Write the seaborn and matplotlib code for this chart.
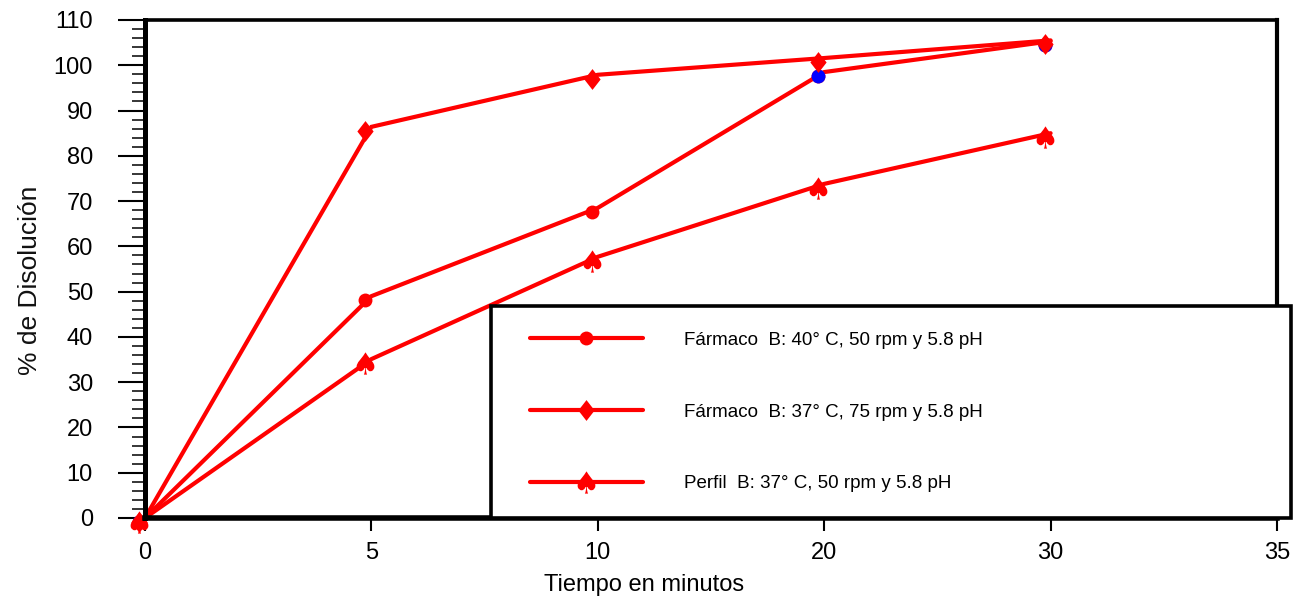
import numpy as np
import pandas as pd
import matplotlib
matplotlib.use('Agg')
import matplotlib.pyplot as plt
import matplotlib.transforms as mtransforms
from matplotlib.lines import Line2D
from matplotlib.patches import Rectangle
from matplotlib.ticker import MultipleLocator
import seaborn as sns

# ---------------- data ----------------
tiempo = [0, 5, 10, 20, 30]
xtick_labels = ['0', '5', '10', '20', '30', '35']
ytick_values = list(range(0, 111, 10))
farmaco_40c_50rpm = [0, 49.0, 68.5, 98.5, 105.3]
farmaco_37c_75rpm = [0, 86.4, 97.9, 101.6, 105.5]
perfil_37c_50rpm = [0, 35.1, 57.7, 73.8, 85.0]
etiquetas = ['Fármaco  B: 40° C, 50 rpm y 5.8 pH',
             'Fármaco  B: 37° C, 75 rpm y 5.8 pH',
             'Perfil  B: 37° C, 50 rpm y 5.8 pH']
tiempos_azules = [0, 20, 30]   # circle markers drawn in blue

# ---------------- style ----------------
sns.set_theme(style='ticks')
plt.rcParams['font.family'] = ['Liberation Sans', 'DejaVu Sans']

W, H = 1294, 599
fig = plt.figure(figsize=(W / 100, H / 100), dpi=100)
ax = fig.add_axes([145 / W, 1 - 518 / H, (1277 - 145) / W, (518 - 20) / H])

df = pd.DataFrame({
    'pos': np.arange(len(tiempo)),
    'tiempo': tiempo,
    's1': farmaco_40c_50rpm,
    's2': farmaco_37c_75rpm,
    's3': perfil_37c_50rpm,
})

diamond = [(0, 1), (0.78, 0), (0, -1), (-0.78, 0), (0, 1)]
spade = r'$\spadesuit$'
marker_offset = ax.transData + mtransforms.ScaledTranslation(-0.06, -0.04, fig.dpi_scale_trans)
LW = 3.0


def draw_series(col, marker, ms, color='red', sub=None):
    data = df if sub is None else df[df['tiempo'].isin(sub)]
    if sub is None:
        sns.lineplot(data=data, x='pos', y=col, color=color, lw=LW, ax=ax)
        ax.lines[-1].set_solid_joinstyle('miter')
    sns.lineplot(data=data, x='pos', y=col, color=color, linewidth=0, marker=marker,
                 markersize=ms, markeredgewidth=0, ax=ax)
    ln = ax.lines[-1]
    ln.set_transform(marker_offset)
    ln.set_clip_on(False)


draw_series('s1', 'o', 10)
draw_series('s1', 'o', 10, color='blue', sub=tiempos_azules)
draw_series('s2', diamond, 15)
draw_series('s3', spade, 16)

# ---------------- axes ----------------
ax.set_xlim(0, 5)
ax.set_ylim(0, 110)
ax.set_xticks(np.arange(len(xtick_labels)))
ax.set_xticklabels(xtick_labels)
ax.set_yticks(ytick_values)
ax.yaxis.set_minor_locator(MultipleLocator(2))
ax.tick_params(axis='y', which='major', direction='out', length=19.5, width=1.5,
               pad=18, labelsize=17, left=True, color='black', labelcolor='black')
ax.tick_params(axis='y', which='minor', direction='out', length=9.5, width=1.1,
               left=True, color='black')
ax.tick_params(axis='x', which='major', direction='out', length=9.5, width=1.5,
               pad=8, labelsize=17, bottom=True, color='black', labelcolor='black')
for side, lw in [('left', 3.6), ('bottom', 4.0), ('top', 2.6), ('right', 3.0)]:
    ax.spines[side].set_visible(True)
    ax.spines[side].set_linewidth(lw)
    ax.spines[side].set_color('black')

ax.set_xlabel('Tiempo en minutos', fontsize=17, color='black', va='center', ha='center')
ax.xaxis.set_label_coords((644 - 145) / (1277 - 145), (518 - 585) / (518 - 20))
ax.set_ylabel('% de Disolución', fontsize=19, color='#111111', va='center', ha='center')
ax.yaxis.set_label_coords((30 - 145) / (1277 - 145), (518 - 280) / (518 - 20))

# ---------------- legend ----------------
frame = Rectangle((491 / W, 1 - 518 / H), (1291 - 491) / W, (518 - 306) / H,
                  transform=fig.transFigure, facecolor='white', edgecolor='black',
                  linewidth=2.6, zorder=4.5, clip_on=False)
ax.add_patch(frame)
handles = [
    Line2D([], [], color='red', lw=3, marker='o', markersize=10, markeredgewidth=0),
    Line2D([], [], color='red', lw=3, marker=diamond, markersize=15, markeredgewidth=0),
    Line2D([], [], color='red', lw=3, marker=spade, markersize=16, markeredgewidth=0),
]
leg = ax.legend(handles, etiquetas, loc='center left',
                bbox_to_anchor=(530 / W, 1 - 412 / H), bbox_transform=fig.transFigure,
                frameon=False, fontsize=13.5, borderpad=0, borderaxespad=0,
                handlelength=6.0, handletextpad=2.2, labelspacing=2.92, numpoints=1)
leg.set_zorder(6)
for t in leg.get_texts():
    t.set_color('black')

fig.savefig('out.png', dpi=100, facecolor='white')
